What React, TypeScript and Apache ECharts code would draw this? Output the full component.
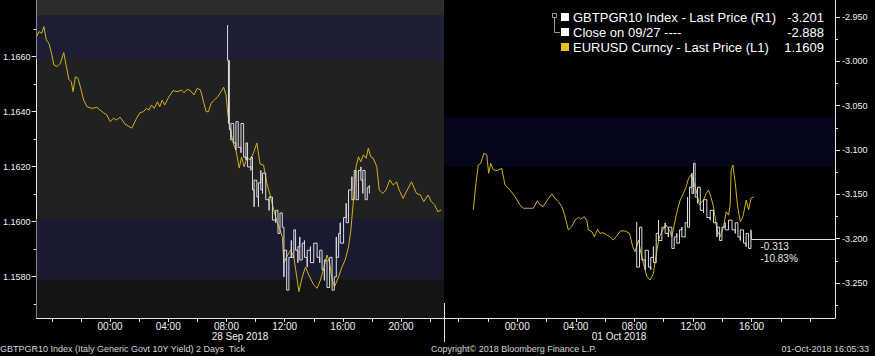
import React, { useEffect, useRef } from 'react';
import * as echarts from 'echarts';

// ---------- texts ----------
const DAY1_DATE = '28 Sep 2018';
const DAY2_DATE = '01 Oct 2018';
const FOOTER_LEFT = 'GBTPGR10 Index (Italy Generic Govt 10Y Yield) 2 Days  Tick';
const FOOTER_MID = 'Copyright\u00a9 2018 Bloomberg Finance L.P.';
const FOOTER_RIGHT = '01-Oct-2018 16:05:33';
const LEGEND_NAMES = ['GBTPGR10 Index - Last Price (R1)', 'Close on 09/27 ----', 'EURUSD Curncy - Last Price (L1)'];
const LEGEND_VALUES = ['-3.201', '-2.888', '1.1609'];
const LAST_CHANGE = '-0.313';
const LAST_CHANGE_PCT = '-10.83%';
const LAST_TIME = 16.0;
const LAST_YIELD = -3.201;

// ---------- ticks ----------
const EURUSD_TICKS = [1.158, 1.16, 1.162, 1.164, 1.166];
const EURUSD_MINOR = [1.157, 1.159, 1.161, 1.163, 1.165, 1.167];
const YIELD_TICKS = [-3.25, -3.2, -3.15, -3.1, -3.05, -3.0, -2.95];
const YIELD_MINOR = [-3.275, -3.225, -3.175, -3.125, -3.075, -3.025, -2.975];
const DAY1_HOUR_TICKS = [-4, -2, 0, 2, 4, 6, 8, 10, 12, 14, 16, 18, 20, 22];
const DAY1_HOUR_LABELS = [0, 4, 8, 12, 16, 20];
const DAY2_HOUR_TICKS = [-4, -2, 0, 2, 4, 6, 8, 10, 12, 14, 16, 18, 20];
const DAY2_HOUR_LABELS = [0, 4, 8, 12, 16];

// ---------- EURUSD (left axis), hours relative to day's 00:00 ----------
const EU1_T = [-5.05, -4.88, -4.70, -4.54, -4.38, -4.20, -4.02, -3.86, -3.63, -3.41,
  -3.18, -3.02, -2.83, -2.66, -2.54, -2.38, -2.20, -2.04, -1.81, -1.58,
  -1.24, -0.90, -0.68, -0.44, -0.22, 0.01, 0.24, 0.46, 0.69, 1.03,
  1.49, 1.83, 2.05, 2.29, 2.51, 2.67, 2.85, 3.04, 3.26, 3.42,
  3.58, 3.76, 3.99, 4.33, 4.67, 4.90, 5.08, 5.31, 5.53, 5.77,
  5.99, 6.22, 6.45, 6.61, 6.76, 6.95, 7.17, 7.41, 7.63, 7.81,
  7.97, 8.09, 8.27, 8.50, 8.65, 8.88, 9.04, 9.22, 9.41, 9.63,
  9.86, 10.09, 10.31, 10.55, 10.77, 11.00, 11.27, 11.50, 11.68, 11.84,
  11.95, 12.14, 12.41, 12.63, 12.98, 13.21, 13.43, 13.66, 14.00, 14.23,
  14.46, 14.68, 14.91, 15.09, 15.26, 15.43, 15.71, 15.94, 16.16, 16.39,
  16.55, 16.73, 16.91, 17.07, 17.23, 17.41, 17.60, 17.75, 17.92, 18.09,
  18.33, 18.50, 18.74, 18.96, 19.23, 19.46, 19.69, 19.87, 20.14, 20.42,
  20.72, 21.06, 21.33, 21.56, 21.85, 22.08, 22.31, 22.53, 22.76];
const EU1_V = [1.16673, 1.16691, 1.16685, 1.16709, 1.16661, 1.16649, 1.16612, 1.16570, 1.16564, 1.16576,
  1.16615, 1.16570, 1.16518, 1.16509, 1.16473, 1.16527, 1.16521, 1.16491, 1.16442, 1.16418,
  1.16412, 1.16416, 1.16406, 1.16396, 1.16388, 1.16364, 1.16376, 1.16370, 1.16380, 1.16355,
  1.16340, 1.16376, 1.16396, 1.16400, 1.16412, 1.16406, 1.16424, 1.16412, 1.16436, 1.16418,
  1.16442, 1.16424, 1.16449, 1.16476, 1.16473, 1.16479, 1.16469, 1.16481, 1.16476, 1.16461,
  1.16485, 1.16479, 1.16431, 1.16400, 1.16400, 1.16431, 1.16442, 1.16455, 1.16473, 1.16489,
  1.16461, 1.16394, 1.16333, 1.16279, 1.16261, 1.16195, 1.16235, 1.16199, 1.16235, 1.16224,
  1.16250, 1.16286, 1.16210, 1.16206, 1.16141, 1.16097, 1.16039, 1.15995, 1.15970, 1.15944,
  1.15850, 1.15872, 1.15897, 1.15872, 1.15746, 1.15799, 1.15835, 1.15806, 1.15770, 1.15758,
  1.15788, 1.15831, 1.15879, 1.15849, 1.15788, 1.15764, 1.15800, 1.15836, 1.15861, 1.15909,
  1.15970, 1.16079, 1.16200, 1.16236, 1.16218, 1.16243, 1.16231, 1.16267, 1.16236, 1.16231,
  1.16200, 1.16115, 1.16103, 1.16115, 1.16152, 1.16133, 1.16145, 1.16115, 1.16085, 1.16115,
  1.16145, 1.16103, 1.16097, 1.16073, 1.16097, 1.16073, 1.16061, 1.16036, 1.16043];

const EU2_T = [-3.00, -2.82, -2.66, -2.50, -2.27, -2.08, -1.95, -1.81, -1.63, -1.36,
  -1.06, -0.83, -0.49, -0.15, 0.19, 0.42, 1.10, 1.37, 1.56, 1.78,
  2.06, 2.36, 2.58, 2.81, 3.05, 3.27, 3.49, 3.72, 3.95, 4.18,
  4.34, 4.57, 4.75, 4.86, 5.09, 5.27, 5.48, 5.66, 5.88, 6.11,
  6.35, 6.57, 6.84, 7.07, 7.37, 7.66, 7.89, 8.05, 8.28, 8.45,
  8.62, 8.85, 9.07, 9.30, 9.54, 9.71, 9.94, 10.17, 10.40, 10.56,
  10.79, 10.94, 11.13, 11.35, 11.54, 11.70, 11.88, 12.04, 12.22, 12.44,
  12.72, 12.91, 13.06, 13.22, 13.40, 13.64, 13.86, 14.09, 14.27, 14.43,
  14.54, 14.61, 14.73, 14.89, 15.05, 15.23, 15.41, 15.64, 15.80, 15.96, 16.14];
const EU2_V = [1.16043, 1.16140, 1.16206, 1.16212, 1.16249, 1.16243, 1.16176, 1.16212, 1.16188, 1.16186,
  1.16194, 1.16133, 1.16115, 1.16091, 1.16061, 1.16049, 1.16049, 1.16076, 1.16061, 1.16055,
  1.16079, 1.16101, 1.16085, 1.16073, 1.16055, 1.16018, 1.15970, 1.15982, 1.16006, 1.16016,
  1.16009, 1.16018, 1.16006, 1.15970, 1.15964, 1.15945, 1.15972, 1.15958, 1.15960, 1.15952,
  1.15945, 1.15933, 1.15952, 1.15967, 1.15966, 1.15958, 1.15909, 1.15891, 1.15933, 1.15885,
  1.15849, 1.15800, 1.15788, 1.15812, 1.15897, 1.15945, 1.15970, 1.15988, 1.15970, 1.15945,
  1.16006, 1.16043, 1.16079, 1.16103, 1.16127, 1.16158, 1.16170, 1.16145, 1.16115, 1.16061,
  1.16079, 1.16103, 1.16115, 1.16091, 1.16055, 1.15970, 1.15945, 1.15982, 1.16036, 1.16024,
  1.16061, 1.16188, 1.16206, 1.16140, 1.16055, 1.16000, 1.16018, 1.16079, 1.16043, 1.16085, 1.1609];

// ---------- GBTPGR10 ticks (right axis, shown negated), bucket top / bottom ----------
const BTP1_T = [8.08, 8.14, 8.20, 8.31, 8.50, 8.65, 8.81, 9.00, 9.18, 9.34,
  9.45, 9.68, 9.79, 9.90, 10.09, 10.20, 10.36, 10.48, 10.70, 10.93,
  11.16, 11.38, 11.54, 11.68, 11.84, 11.95, 12.14, 12.29, 12.46, 12.63,
  12.75, 12.91, 13.04, 13.21, 13.36, 13.55, 13.77, 14.00, 14.23, 14.41,
  14.57, 14.73, 14.91, 15.09, 15.26, 15.41, 15.55, 15.71, 15.82, 16.05,
  16.23, 16.39, 16.62, 16.78, 16.91, 17.07, 17.24, 17.37, 17.53, 17.68, 17.82];
const BTP1_TOP = [-2.959, -2.999, -3.068, -3.070, -3.074, -3.068, -3.077, -3.070, -3.081, -3.092,
  -3.100, -3.108, -3.123, -3.134, -3.142, -3.137, -3.123, -3.126, -3.145, -3.153,
  -3.164, -3.168, -3.179, -3.171, -3.176, -3.213, -3.235, -3.221, -3.202, -3.190,
  -3.194, -3.209, -3.198, -3.205, -3.202, -3.213, -3.209, -3.205, -3.205, -3.213,
  -3.216, -3.224, -3.235, -3.221, -3.232, -3.243, -3.198, -3.194, -3.182, -3.176,
  -3.160, -3.145, -3.130, -3.123, -3.137, -3.123, -3.119, -3.123, -3.137, -3.142, -3.140];
const BTP1_BOT = [-2.999, -3.070, -3.077, -3.089, -3.092, -3.100, -3.097, -3.103, -3.108, -3.111,
  -3.119, -3.123, -3.145, -3.164, -3.153, -3.164, -3.145, -3.149, -3.156, -3.168,
  -3.179, -3.182, -3.194, -3.190, -3.187, -3.243, -3.258, -3.243, -3.221, -3.209,
  -3.213, -3.227, -3.224, -3.224, -3.221, -3.232, -3.227, -3.216, -3.221, -3.227,
  -3.235, -3.247, -3.255, -3.243, -3.258, -3.258, -3.221, -3.213, -3.205, -3.194,
  -3.182, -3.168, -3.156, -3.145, -3.156, -3.137, -3.134, -3.149, -3.156, -3.153, -3.149];

const BTP2_T = [8.16, 8.35, 8.51, 8.74, 8.96, 9.12, 9.30, 9.49, 9.65, 9.88,
  10.10, 10.32, 10.56, 10.72, 10.90, 11.08, 11.24, 11.47, 11.63, 11.77,
  11.93, 12.04, 12.15, 12.31, 12.50, 12.72, 12.95, 13.18, 13.40, 13.64,
  13.82, 13.98, 14.20, 14.43, 14.67, 14.89, 15.07, 15.23, 15.45, 15.63,
  15.80, 15.96];
const BTP2_TOP = [-3.181, -3.187, -3.194, -3.213, -3.216, -3.221, -3.209, -3.194, -3.179, -3.187,
  -3.182, -3.187, -3.198, -3.198, -3.194, -3.190, -3.187, -3.182, -3.153, -3.142,
  -3.126, -3.115, -3.130, -3.142, -3.149, -3.156, -3.164, -3.168, -3.171, -3.187,
  -3.190, -3.187, -3.182, -3.179, -3.181, -3.182, -3.187, -3.190, -3.190, -3.194,
  -3.198, -3.190];
const BTP2_BOT = [-3.232, -3.205, -3.224, -3.235, -3.232, -3.235, -3.227, -3.213, -3.202, -3.198,
  -3.194, -3.198, -3.211, -3.209, -3.205, -3.202, -3.198, -3.194, -3.187, -3.164,
  -3.149, -3.142, -3.153, -3.160, -3.168, -3.171, -3.176, -3.179, -3.182, -3.198,
  -3.202, -3.194, -3.190, -3.190, -3.190, -3.194, -3.198, -3.202, -3.205, -3.209,
  -3.211, -3.205];

// background bands (EURUSD axis units)
const DAY1_BANDS = [[1.1675, 1.16806], [1.1659, 1.1675], [1.1579, 1.1601], [1.1565, 1.1579]];
const DAY2_BANDS = [[1.1620, 1.1638]];

// ---------- layout ----------
const EU_MIN = 1.1565, EU_MAX = 1.16806;
const Y_MIN = -3.2894, Y_MAX = -2.9308;
const D1_MIN = -5.05, D1_MAX = 22.95;
const D2_MIN = -5.0, D2_MAX = 21.7;
const FONT = "'Liberation Sans', Arial, sans-serif";
const AXIS_COLOR = '#e6e6e6';
const YELLOW = '#d2b31a';
const WHITE_LINE = '#dcdce4';

function zip(t: number[], v: number[]) {
  return t.map((x, i) => [x, v[i]]);
}
function tickPath(t: number[], top: number[], bot: number[]) {
  const pts: number[][] = [];
  t.forEach((x, i) => {
    if (i % 2 === 0) { pts.push([x, top[i]]); pts.push([x, bot[i]]); }
    else { pts.push([x, bot[i]]); pts.push([x, top[i]]); }
  });
  return pts;
}
const hh = (v: number) => String(Math.round(v)).padStart(2, '0') + ':00';

export default function App() {
  const ref = useRef<HTMLDivElement>(null);
  useEffect(() => {
    const chart = echarts.init(ref.current!, null, { renderer: 'svg' });

    const xAxis = (gridIndex: number, min: number, max: number, ticks: number[], labels: number[]) => ({
      type: 'value', gridIndex, min, max,
      axisLine: { show: true, onZero: false, lineStyle: { color: AXIS_COLOR, width: 1 } },
      axisTick: { show: true, customValues: ticks, length: 4, lineStyle: { color: AXIS_COLOR } },
      axisLabel: { show: true, customValues: labels, color: '#f2f2f2', fontSize: 10, fontFamily: FONT, margin: 3, formatter: hh },
      splitLine: { show: false },
    });
    const hiddenY = (gridIndex: number, position: string, min: number, max: number) => ({
      type: 'value', gridIndex, position, min, max, show: false,
      axisLine: { onZero: false }, splitLine: { show: false },
    });
    const minorY = (gridIndex: number, position: string, min: number, max: number, ticks: number[]) => ({
      type: 'value', gridIndex, position, min, max,
      axisLine: { show: false, onZero: false },
      axisTick: { show: true, customValues: ticks, length: 3, lineStyle: { color: AXIS_COLOR } },
      axisLabel: { show: false }, splitLine: { show: false },
    });

    chart.setOption({
      animation: false,
      backgroundColor: '#000',
      grid: [
        { left: 34, top: 0, width: 410, height: 318, show: true, backgroundColor: '#212121', borderWidth: 0 },
        { left: 444, top: 0, width: 391, height: 318, show: true, backgroundColor: '#000000', borderWidth: 0 },
      ],
      xAxis: [
        xAxis(0, D1_MIN, D1_MAX, DAY1_HOUR_TICKS, DAY1_HOUR_LABELS),
        xAxis(1, D2_MIN, D2_MAX, DAY2_HOUR_TICKS, DAY2_HOUR_LABELS),
      ],
      yAxis: [
        {
          type: 'value', gridIndex: 0, position: 'left', min: EU_MIN, max: EU_MAX,
          axisLine: { show: true, onZero: false, lineStyle: { color: AXIS_COLOR } },
          axisTick: { show: true, customValues: EURUSD_TICKS, length: 5, lineStyle: { color: AXIS_COLOR } },
          axisLabel: { customValues: EURUSD_TICKS, formatter: (v: number) => v.toFixed(4), color: '#f2f2f2', fontSize: 9, fontFamily: FONT, margin: 6 },
          splitLine: { show: false },
        },
        hiddenY(0, 'right', Y_MIN, Y_MAX),
        hiddenY(1, 'left', EU_MIN, EU_MAX),
        {
          type: 'value', gridIndex: 1, position: 'right', min: Y_MIN, max: Y_MAX,
          axisLine: { show: true, onZero: false, lineStyle: { color: AXIS_COLOR } },
          axisTick: { show: true, customValues: YIELD_TICKS, length: 5, lineStyle: { color: AXIS_COLOR } },
          axisLabel: { customValues: YIELD_TICKS, formatter: (v: number) => v.toFixed(3), color: '#f2f2f2', fontSize: 9, fontFamily: FONT, margin: 7 },
          splitLine: { show: false },
        },
        minorY(0, 'left', EU_MIN, EU_MAX, EURUSD_MINOR),
        minorY(1, 'right', Y_MIN, Y_MAX, YIELD_MINOR),
      ],
      series: [
        {
          type: 'line', xAxisIndex: 0, yAxisIndex: 0, data: zip(EU1_T, EU1_V),
          showSymbol: false, symbol: 'none', silent: true, z: 2,
          lineStyle: { color: YELLOW, width: 1 },
          markArea: {
            silent: true, label: { show: false },
            data: DAY1_BANDS.map((b, i) => [
              { yAxis: b[0], itemStyle: { color: ['#2c2c2c', '#1d1d33', '#1a1a2f', '#141414'][i], opacity: 1 } },
              { yAxis: b[1] },
            ]),
          },
        },
        {
          type: 'line', xAxisIndex: 0, yAxisIndex: 1, data: tickPath(BTP1_T, BTP1_TOP, BTP1_BOT),
          step: 'end', showSymbol: false, symbol: 'none', silent: true, z: 3,
          lineStyle: { color: WHITE_LINE, width: 1 },
        },
        {
          type: 'line', xAxisIndex: 1, yAxisIndex: 2, data: zip(EU2_T, EU2_V),
          showSymbol: false, symbol: 'none', silent: true, z: 2,
          lineStyle: { color: YELLOW, width: 1 },
          markArea: {
            silent: true, label: { show: false },
            data: DAY2_BANDS.map((b) => [
              { yAxis: b[0], itemStyle: { color: '#06061a', opacity: 1 } },
              { yAxis: b[1] },
            ]),
          },
        },
        {
          type: 'line', xAxisIndex: 1, yAxisIndex: 3,
          data: [...tickPath(BTP2_T, BTP2_TOP, BTP2_BOT), [LAST_TIME, LAST_YIELD]],
          step: 'end', showSymbol: false, symbol: 'none', silent: true, z: 3,
          lineStyle: { color: WHITE_LINE, width: 1 },
          markLine: {
            silent: true, symbol: ['none', 'none'], label: { show: false },
            lineStyle: { color: '#e0e0e0', width: 1, type: 'solid' },
            data: [[{ coord: [LAST_TIME, LAST_YIELD] }, { coord: [D2_MAX, LAST_YIELD] }]],
          },
        },
      ],
    });

    const p = chart.convertToPixel({ xAxisIndex: 1, yAxisIndex: 3 }, [LAST_TIME, LAST_YIELD]) as number[];
    const txt = (x: number, y: number, text: string, size: number, align: string, fill = '#f4f4f4') => ({
      type: 'text', x, y, z: 100,
      style: { text, fill, font: `${size}px ${FONT}`, textAlign: align, textVerticalAlign: 'middle' },
    });
    const g: any[] = [];
    // legend box
    g.push({ type: 'rect', z: 99, shape: { x: 546, y: 0, width: 287, height: 60 }, style: { fill: '#000' } });
    g.push({ type: 'rect', z: 100, shape: { x: 552.5, y: 13.5, width: 4, height: 4 }, style: { fill: 'none', stroke: '#9a9a9a', lineWidth: 1 } });
    g.push({ type: 'polyline', z: 100, shape: { points: [[554.5, 18], [554.5, 32.5], [560, 32.5]] }, style: { fill: 'none', stroke: '#9a9a9a', lineWidth: 1 } });
    const squareColors = ['#ffffff', '#ffffff', '#e8c21a'];
    LEGEND_NAMES.forEach((name, i) => {
      const y = 17 + i * 15;
      g.push({ type: 'rect', z: 100, shape: { x: 561, y: y - 4, width: 8, height: 8 }, style: { fill: squareColors[i] } });
      g.push(txt(573, y, name, 13, 'left', '#ffffff'));
      g.push(txt(824, y, LEGEND_VALUES[i], 13, 'right', '#ffffff'));
    });
    // last price change labels
    g.push(txt(p[0] + 9, p[1] + 7, LAST_CHANGE, 10, 'left', '#e8e8e8'));
    g.push(txt(p[0] + 9, p[1] + 19, LAST_CHANGE_PCT, 10, 'left', '#e8e8e8'));
    // date labels
    g.push(txt(240, 336, DAY1_DATE, 10, 'center', '#f2f2f2'));
    g.push(txt(619, 336, DAY2_DATE, 10, 'center', '#f2f2f2'));
    // session divider tick
    g.push({ type: 'line', z: 100, shape: { x1: 444.5, y1: 303, x2: 444.5, y2: 342 }, style: { stroke: AXIS_COLOR, lineWidth: 1 } });
    // footer
    g.push(txt(0, 349, FOOTER_LEFT, 9, 'left', '#d6d6d6'));
    g.push(txt(431, 349, FOOTER_MID, 9, 'left', '#d6d6d6'));
    g.push(txt(869, 349, FOOTER_RIGHT, 9, 'right', '#d6d6d6'));
    chart.setOption({ graphic: g });

    return () => chart.dispose();
  }, []);
  return <div ref={ref} style={{ position: 'fixed', left: 0, top: 0, width: 875, height: 356, background: '#000' }} />;
}
